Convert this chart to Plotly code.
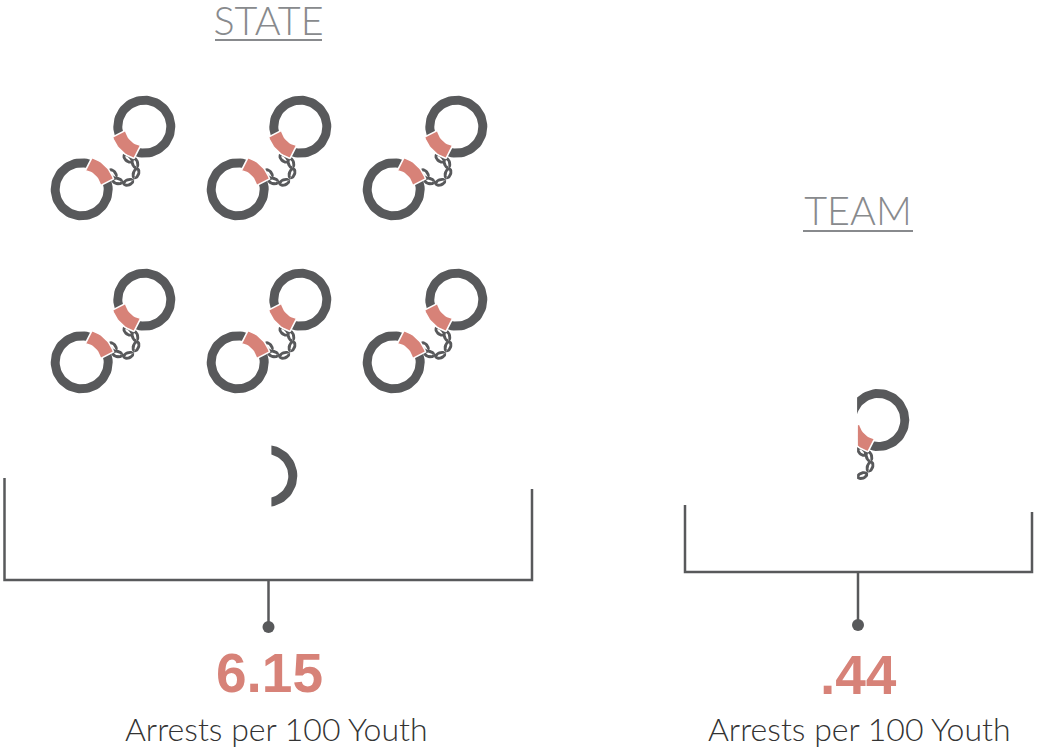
import math
import plotly.graph_objects as go

# ---- data ----
groups = ["STATE", "TEAM"]
values = [6.15, 0.44]
unit_label = "Arrests per 100 Youth"

# ---- style ----
DARK = "#58595b"
PINK = "#d78278"
TITLE = "#888a8d"
TEXT = "#333333"
W, H = 1038, 749

# ---- one handcuff icon, local geometry ----
RING_A = (144.3, 126.7)
RING_B = (81.7, 189.3)
R_OUT, R_IN = 31, 22
LINKS = [(127.7, 158.3, 45), (135, 163, 75), (136, 173.3, 110),
         (128.3, 182.3, -20), (117.3, 181, 15), (112.7, 173.7, 50)]
ICON_RIGHT = 176
CLIP_PAD, CLIP_SCALE = 13, 90.7

# ---- layout of each group ----
GRID = {
    "STATE": dict(cols=3, dx=156, dy=173, x0=0, y0=0, partial=(122, 349.3)),
    "TEAM": dict(cols=1, dx=0, dy=0, x0=734, y0=293.3, partial=(734, 293.3)),
}
BRACKET = {
    "STATE": dict(l=4.5, r=532, tl=478, tr=489, y=580, stem=268.5, dot=627),
    "TEAM": dict(l=685, r=1032, tl=505, tr=512, y=572, stem=858, dot=625),
}
TEXT_POS = {
    "STATE": dict(title=(268.5, 25.5), rule=(215, 322, 40), value=(269.5, 673), unit=(276, 728)),
    "TEAM": dict(title=(858, 215.5), rule=(803, 913, 231), value=(858.5, 675), unit=(859.5, 728)),
}


def ellipse(cx, cy, a, b, rot=0, n=48, reverse=False):
    c, s = math.cos(math.radians(rot)), math.sin(math.radians(rot))
    pts = []
    for i in range(n + 1):
        t = 2 * math.pi * i / n
        if reverse:
            t = -t
        x, y = a * math.cos(t), b * math.sin(t)
        pts.append((cx + x * c - y * s, cy + x * s + y * c))
    return pts


def annulus(cx, cy, a1, b1, a2, b2, rot=0, n=72):
    return ellipse(cx, cy, a1, b1, rot, n) + ellipse(cx, cy, a2, b2, rot, n, reverse=True)


def band(cx, cy, mid):
    # mid = direction in screen degrees, band wider at the inside
    pts = []
    r_o, r_i = 33.5, 19
    hw_o, hw_i = 27, 34
    for i in range(13):
        t = math.radians(mid - hw_o + 2 * hw_o * i / 12)
        pts.append((cx + r_o * math.cos(t), cy + r_o * math.sin(t)))
    for i in range(13):
        t = math.radians(mid + hw_i - 2 * hw_i * i / 12)
        pts.append((cx + r_i * math.cos(t), cy + r_i * math.sin(t)))
    pts.append(pts[0])
    return pts


def clip(poly, xmin):
    if xmin is None:
        return poly
    out = []
    for i in range(len(poly)):
        p, q = poly[i - 1], poly[i]
        pin, qin = p[0] >= xmin, q[0] >= xmin
        if pin != qin:
            t = (xmin - p[0]) / (q[0] - p[0])
            out.append((xmin, p[1] + t * (q[1] - p[1])))
        if qin:
            out.append(q)
    if out:
        out.append(out[0])
    return out


def icon_parts(ox, oy, xmin=None):
    dark, pink = [], []
    for cx, cy in (RING_A, RING_B):
        dark.append(annulus(cx, cy, R_OUT, R_OUT, R_IN, R_IN))
    for cx, cy, rot in LINKS:
        dark.append(annulus(cx, cy, 6.2, 4.1, 3.2, 1.2, rot, 24))
    pink.append(band(*RING_A, 135))   # towards lower-left
    pink.append(band(*RING_B, -45))   # towards upper-right
    f = lambda polys: [q for q in (clip(p, xmin) for p in polys) if q]
    mv = lambda polys: [[(x + ox, y + oy) for x, y in p] for p in polys]
    return mv(f(dark)), mv(f(pink))


def add_polys(fig, polys, color, line=None):
    xs, ys = [], []
    for p in polys:
        xs += [a for a, _ in p] + [None]
        ys += [b for _, b in p] + [None]
    fig.add_trace(go.Scatter(
        x=xs, y=ys, mode="lines", fill="toself", fillcolor=color,
        line=dict(color=line or "rgba(0,0,0,0)", width=1.6 if line else 0),
        hoverinfo="skip", showlegend=False))


fig = go.Figure()

for g, v in zip(groups, values):
    grid = GRID[g]
    whole = int(v)
    frac = v - whole
    dark, pink = [], []
    for i in range(whole):
        ox = grid["x0"] + (i % grid["cols"]) * grid["dx"]
        oy = grid["y0"] + (i // grid["cols"]) * grid["dy"]
        d, p = icon_parts(ox, oy)
        dark += d
        pink += p
    if frac > 0:
        xmin = ICON_RIGHT - (CLIP_PAD + CLIP_SCALE * frac)
        d, p = icon_parts(*grid["partial"], xmin)
        dark += d
        pink += p
    add_polys(fig, dark, DARK)
    if pink:
        add_polys(fig, pink, PINK, line="#ffffff")

    b = BRACKET[g]
    fig.add_trace(go.Scatter(
        x=[b["l"], b["l"], b["r"], b["r"]], y=[b["tl"], b["y"], b["y"], b["tr"]],
        mode="lines", line=dict(color=DARK, width=2.5), hoverinfo="skip", showlegend=False))
    fig.add_trace(go.Scatter(
        x=[b["stem"], b["stem"]], y=[b["y"], b["dot"]], mode="lines",
        line=dict(color=DARK, width=2.5), hoverinfo="skip", showlegend=False))
    fig.add_trace(go.Scatter(
        x=[b["stem"]], y=[b["dot"]], mode="markers",
        marker=dict(color=DARK, size=12, opacity=1, line=dict(width=0)),
        hoverinfo="skip", showlegend=False))

    t = TEXT_POS[g]
    x0, x1, yr = t["rule"]
    fig.add_trace(go.Scatter(x=[x0, x1], y=[yr, yr], mode="lines",
                             line=dict(color=TITLE, width=2), hoverinfo="skip", showlegend=False))
    vtext = f"{v:g}".lstrip("0")
    fig.add_trace(go.Scatter(
        x=[t["title"][0]], y=[t["title"][1]], text=[g], mode="text",
        textposition="middle center", cliponaxis=False,
        textfont=dict(family="Lato", size=39.5, color=TITLE, weight=300),
        hoverinfo="skip", showlegend=False))
    fig.add_annotation(x=t["value"][0], y=t["value"][1], text=f"<b>{vtext}</b>", showarrow=False,
                       xanchor="center", yanchor="middle",
                       font=dict(family="Liberation Sans", size=55, color=PINK))
    fig.add_annotation(x=t["unit"][0], y=t["unit"][1], text=unit_label, showarrow=False,
                       xanchor="center", yanchor="middle",
                       font=dict(family="Lato", size=32, color=TEXT, weight=300))

fig.update_xaxes(range=[0, W], visible=False, fixedrange=True)
fig.update_yaxes(range=[H, 0], visible=False, fixedrange=True)
fig.update_layout(width=W, height=H, margin=dict(l=0, r=0, t=0, b=0),
                  paper_bgcolor="white", plot_bgcolor="white", showlegend=False)
fig.write_html("out.html", config=dict(displayModeBar=False),
               post_script="document.body.style.margin='0';document.body.style.overflow='hidden';")
